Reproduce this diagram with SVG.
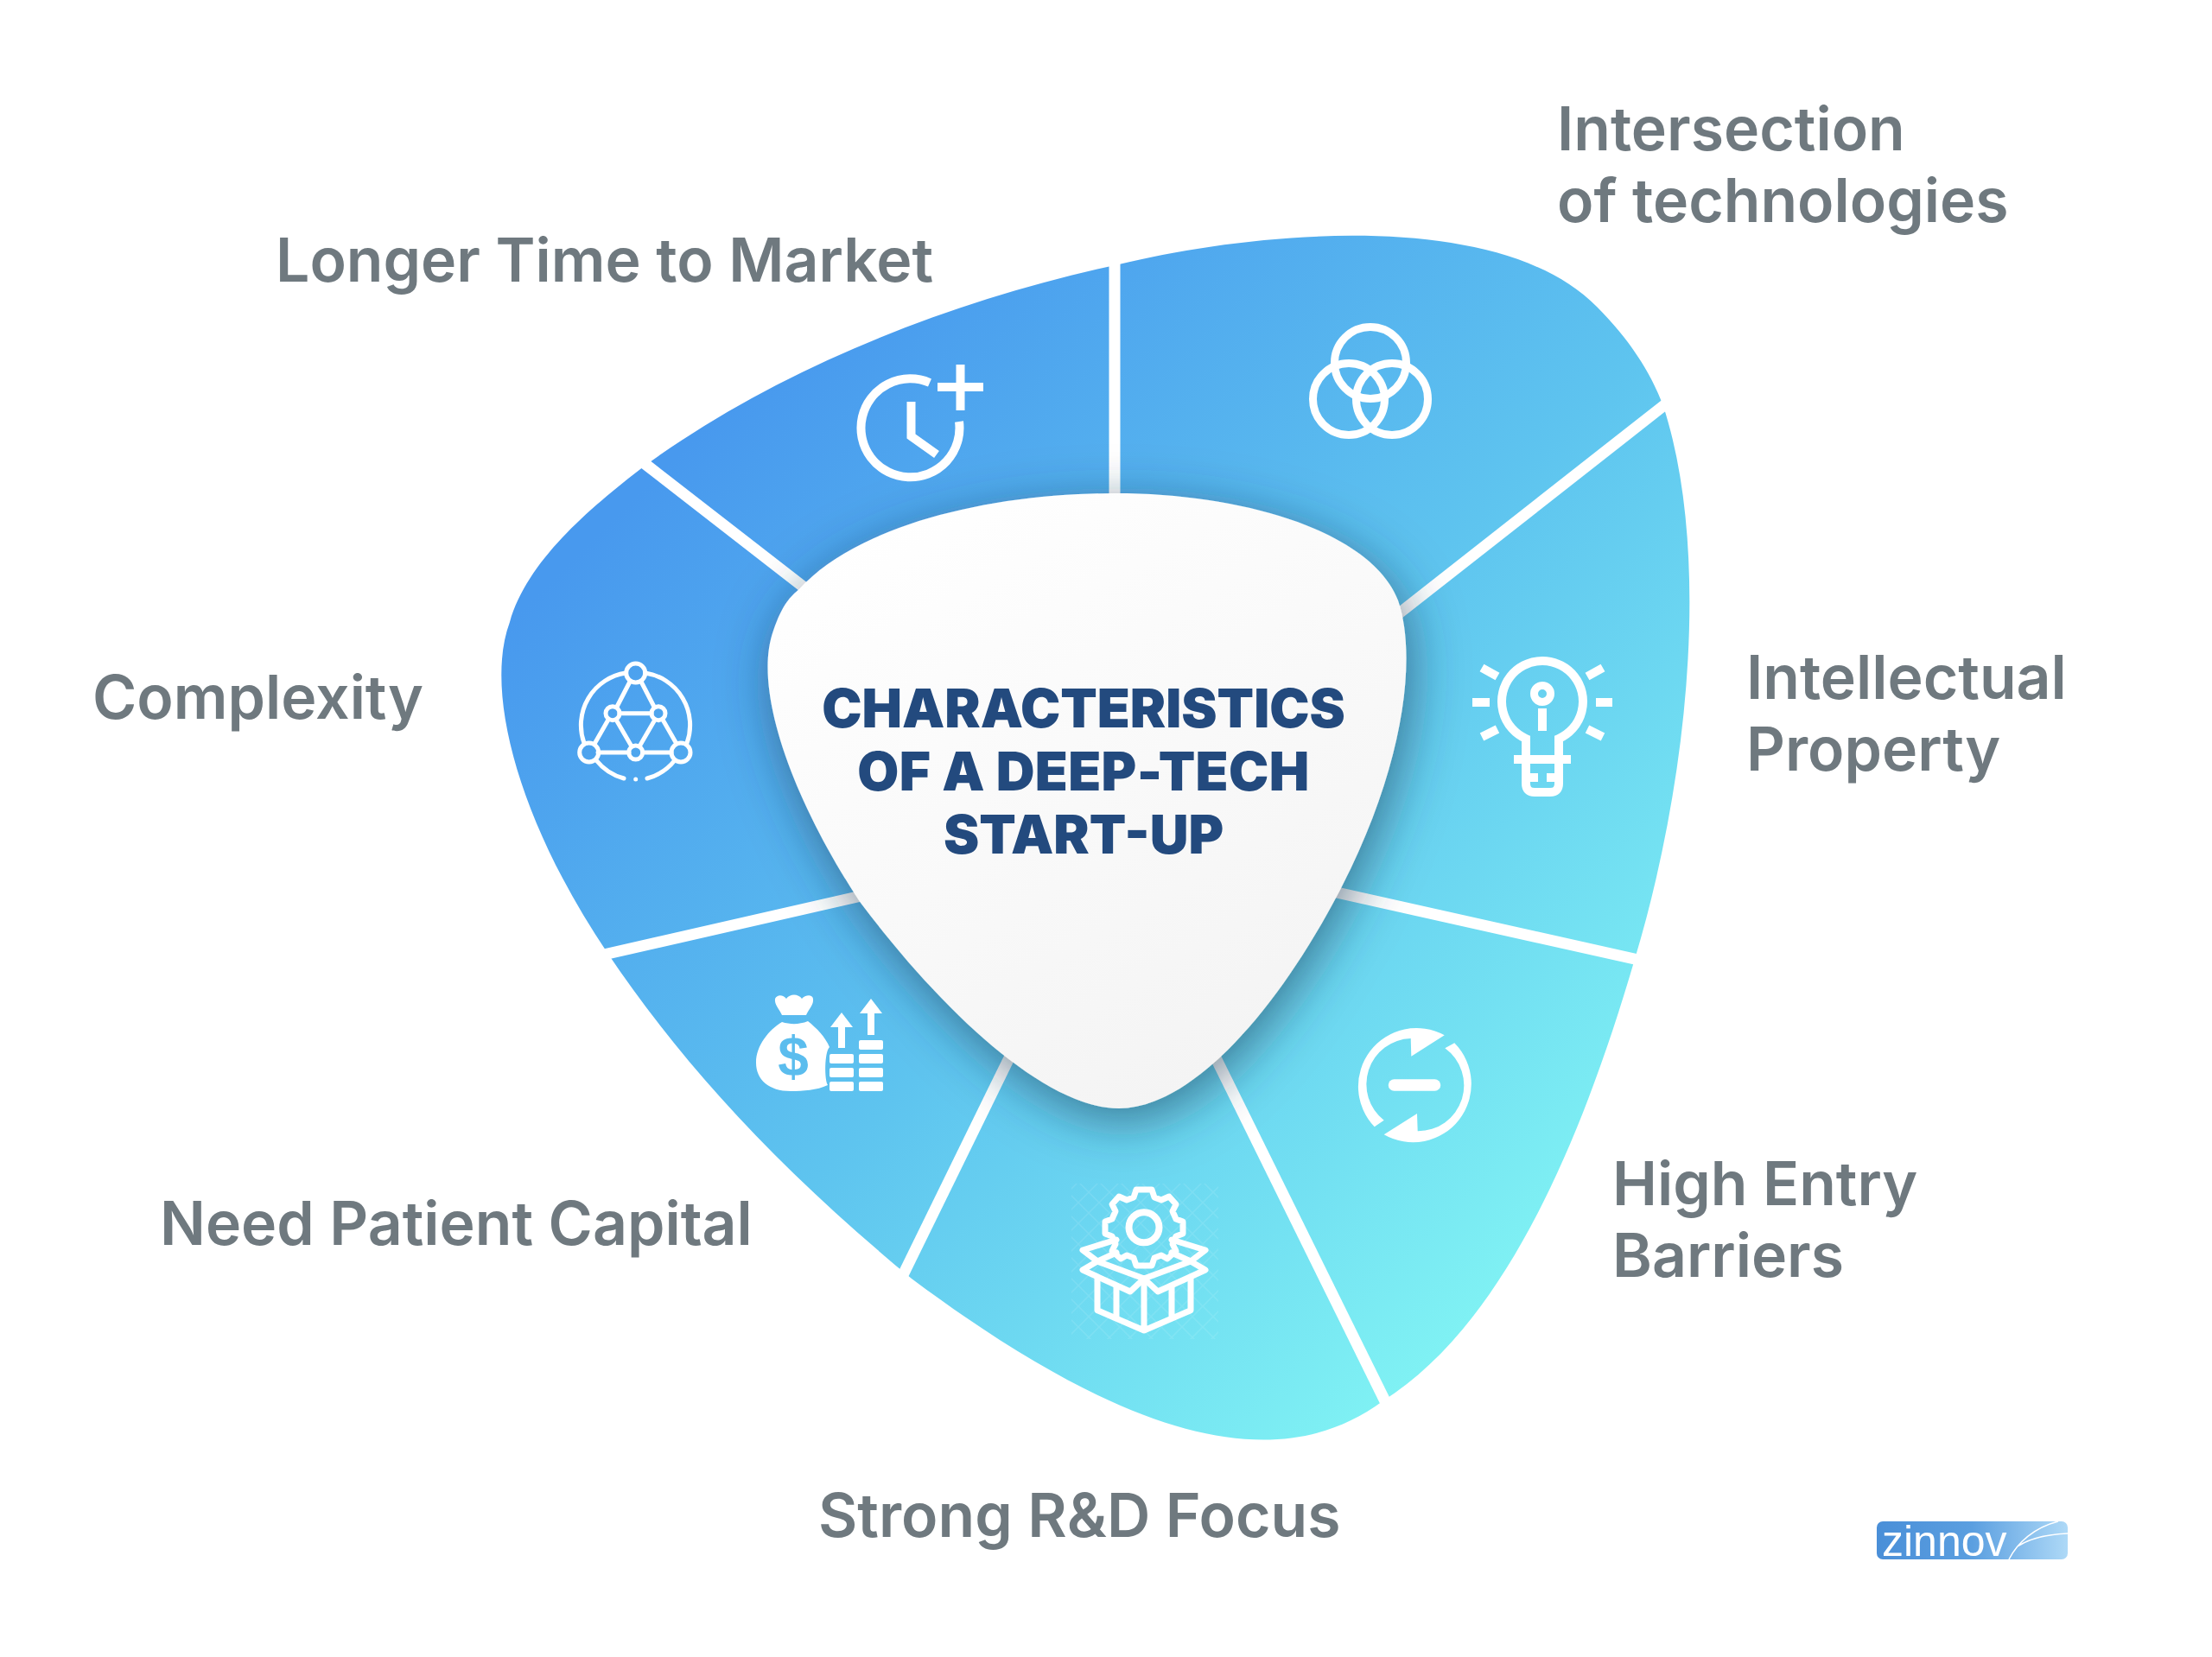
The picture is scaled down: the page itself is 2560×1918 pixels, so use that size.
<svg xmlns="http://www.w3.org/2000/svg" width="2560" height="1918" viewBox="0 0 2560 1918">
<defs>
<linearGradient id="g" gradientUnits="userSpaceOnUse" x1="750" y1="560" x2="1750" y2="1560"><stop offset="0" stop-color="#4899ee"/><stop offset=".5" stop-color="#5ec4ef"/><stop offset="1" stop-color="#82f5f4"/></linearGradient>
<linearGradient id="c" x1="0.2" y1="0" x2="0.8" y2="1"><stop offset="0" stop-color="#ffffff"/><stop offset="1" stop-color="#f3f3f3"/></linearGradient>
<linearGradient id="lg" x1="0" y1="0" x2="1" y2="0"><stop offset="0" stop-color="#4a8fd8"/><stop offset=".5" stop-color="#5b9fe0"/><stop offset="1" stop-color="#aed9f7"/></linearGradient>
<filter id="s" x="-30%" y="-30%" width="160%" height="160%"><feDropShadow dx="6" dy="14" stdDeviation="30" flood-color="#1a3a55" flood-opacity=".6"/></filter>
<pattern id="dm" width="24" height="24" patternUnits="userSpaceOnUse"><path d="M0 0L24 24M24 0L0 24" stroke="#fff" stroke-width="1.500" opacity=".25"/></pattern>
<style>
.lb{font-family:Inter,"Liberation Sans",sans-serif;font-weight:600;font-size:69.700px;fill:#6f797f}
.tt{font-family:Inter,"Liberation Sans",sans-serif;font-weight:900;font-size:62px;fill:#234a7e;text-anchor:middle}
.i{fill:none;stroke:#fff;stroke-width:10}
.sep{stroke:#fff;stroke-width:13;fill:none}
</style>
</defs>
<rect width="2560" height="1918" fill="#fff"/>
<g id="wheel"><path fill="url(#g)" d="M1295 306C1450 268 1735 240 1848 355C1885 392 1910 430 1925 470C1980 640 1955 900 1892 1110C1822 1350 1730 1540 1600 1622C1480 1710 1310 1670 1055 1480C900 1352 790 1232 703 1103C600 950 560 800 590 720C610 650 680 590 745 540C900 427 1100 348 1295 306Z"/></g>
<g id="connectors">
<path class="sep" d="M1290 285V600"/>
<path class="sep" d="M1600 725L1935 462"/>
<path class="sep" d="M1520 1027L1905 1113"/>
<path class="sep" d="M1390 1190L1608 1632"/>
<path class="sep" d="M1180 1200L1043 1480"/>
<path class="sep" d="M1010 1034L690 1107"/>
<path class="sep" d="M950 695L735 528"/>
</g>
<g id="center"><path fill="url(#c)" filter="url(#s)" d="M1290 571C1450 571 1590 620 1618 695C1642 765 1622 900 1543 1045C1470 1180 1375 1283 1295 1283C1210 1283 1090 1170 996 1045C920 930 870 800 895 730C905 700 915 690 925 682C990 610 1140 571 1290 571Z"/>
<text class="tt" x="1254" y="842">CHARACTERISTICS</text>
<text class="tt" x="1254" y="915" style="letter-spacing:.4px">OF A DEEP-TECH</text>
<text class="tt" x="1254" y="988">START-UP</text></g>
<g id="node-time"><text class="lb" x="319" y="326">Longer Time to Market</text>
<path class="i" d="M1076 443A57 57 0 1 0 1110 488"/><path class="i" d="M1111.500 422V475M1085 448H1138"/><path class="i" d="M1054.500 465V505L1084 526"/></g>
<g id="node-intersection"><text class="lb" x="1802" y="174">Intersection</text><text class="lb" x="1802" y="257">of technologies</text>
<g class="i" style="stroke-width:9"><circle cx="1586" cy="420" r="41.500"/><circle cx="1561" cy="462" r="41.500"/><circle cx="1611" cy="462" r="41.500"/></g></g>
<g id="node-ip"><text class="lb" x="2021" y="809">Intellectual</text><text class="lb" x="2021" y="892">Property</text>
<path class="i" d="M1766 855V907Q1766 917 1776 917H1794Q1804 917 1804 907V855A47 47 0 1 0 1766 855Z"/>
<path class="i" d="M1752 879H1818M1771 900H1780M1790 900H1799M1785 820V846"/>
<circle class="i" cx="1785" cy="803" r="9.500" style="stroke-width:9"/>
<path class="i" d="M1704 813H1724M1847 813H1866M1715 773L1733 783M1855 773L1837 783M1715 853L1733 844M1855 853L1837 844"/></g>
<g id="node-barriers"><text class="lb" x="1866" y="1395">High Entry</text><text class="lb" x="1866" y="1478">Barriers</text>
<g fill="#fff"><path d="M1590.700 1304.300A67.500 67.500 0 0 1 1671.700 1198.300L1633.300 1222.700L1632.700 1202A53 53 0 0 0 1601.700 1296.700Z"/>
<path d="M1683.300 1207.300A67.500 67.500 0 0 1 1601.700 1313.300L1640 1289L1640.700 1309.300A53 53 0 0 0 1672.300 1213.300Z"/></g>
<path d="M1613.500 1256H1660.500" stroke="#fff" stroke-width="13.500" stroke-linecap="round"/></g>
<g id="node-rd"><text class="lb" x="947" y="1779">Strong R&amp;D Focus</text>
<rect x="1240" y="1370" width="170" height="180" fill="url(#dm)" opacity=".4"/>
<g fill="none" stroke="#fff" stroke-width="7" stroke-linejoin="round" stroke-linecap="round">
<circle cx="1324" cy="1420.700" r="17.500" stroke-width="8"/>
<path d="M1315 1377H1333L1336 1386L1344 1389L1353 1385L1361 1394L1357 1402L1361 1411L1369 1414V1428L1361 1431L1357 1440L1361 1448L1351 1457L1344 1453L1336 1456L1333 1465H1315L1312 1456L1304 1453L1297 1457L1287 1448L1291 1440L1287 1431L1279 1428V1414L1287 1411L1291 1402L1287 1394L1295 1385L1304 1389L1312 1386Z"/>
<path d="M1253 1470L1308 1495L1324 1480L1340 1495L1395 1470L1378 1460L1324 1480L1270 1460Z"/>
<path d="M1270 1460L1253 1447L1292 1435M1378 1460L1395 1447L1356 1435M1270 1460L1292 1450M1378 1460L1356 1450"/>
<path d="M1270 1478V1516.700L1324 1540L1378 1516.700V1478M1324 1480V1540M1292 1490V1526M1356 1490V1526"/></g></g>
<g id="node-capital"><text class="lb" x="185" y="1441">Need Patient Capital</text>
<g fill="#fff"><path d="M897 1156C900 1150 907 1152 910 1156C914 1150 924 1150 928 1156C931 1152 940 1150 941 1156C942 1163 936 1168 933 1175H905C902 1168 896 1163 897 1156Z"/>
<path d="M905 1183C915 1186 925 1186 935 1182C945 1190 955 1200 960 1212C954 1218 954 1250 958 1256C945 1262 930 1263 915 1263C890 1263 875 1250 875 1230C875 1210 890 1192 905 1183Z"/>
<rect x="960" y="1220" width="28" height="11" rx="2"/><rect x="960" y="1236" width="28" height="11" rx="2"/><rect x="960" y="1252" width="28" height="11" rx="2"/>
<rect x="994" y="1204" width="28" height="11" rx="2"/><rect x="994" y="1220" width="28" height="11" rx="2"/><rect x="994" y="1236" width="28" height="11" rx="2"/><rect x="994" y="1252" width="28" height="11" rx="2"/>
<path d="M974 1172L987 1189H978V1213H970V1189H961Z"/><path d="M1008 1156L1021 1173H1012V1198H1004V1173H995Z"/></g>
<text x="918" y="1245" font-family="Liberation Sans,sans-serif" font-weight="700" font-size="64" fill="#5bbdee" text-anchor="middle">$</text></g>
<g id="node-complexity"><text class="lb" x="107" y="832">Complexity</text>
<g fill="none" stroke="#fff" stroke-width="5" stroke-linecap="round">
<circle cx="735.700" cy="779" r="11"/><circle cx="681.700" cy="871" r="11"/><circle cx="788" cy="871" r="11"/>
<circle cx="709" cy="825.700" r="8"/><circle cx="762" cy="825.700" r="8"/><circle cx="735.700" cy="871" r="8"/>
<path d="M729 789L714 818M742 789L757 818M717 825.700H754M704 833L688 861M767 833L783 861M713 833L731 864M758 833L740 864M692 871H728M744 871H777"/>
<path d="M724 779A61 61 0 0 0 676 860M747 779A61 61 0 0 1 795 860M690 880A61 61 0 0 0 722 901M781 880A61 61 0 0 1 749 901"/></g>
<circle cx="735.700" cy="902" r="2.500" fill="#fff"/></g>
<g id="logo"><rect x="2172" y="1761" width="221" height="44" rx="7" fill="url(#lg)"/>
<text x="2178" y="1801" font-family="Liberation Sans,sans-serif" font-size="50" fill="#fff">zinnov</text>
<path d="M2325 1805C2335 1785 2355 1768 2382 1761M2335 1790C2350 1780 2370 1776 2393 1775" fill="none" stroke="#fff" stroke-width="1.500"/></g>
</svg>
